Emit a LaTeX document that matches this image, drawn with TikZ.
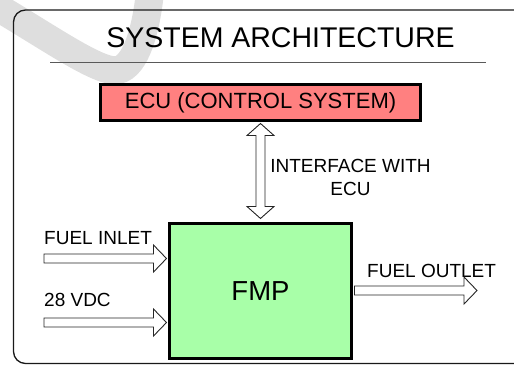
\documentclass[tikz,border=0pt]{standalone}
\usepackage{fontspec}
\setmainfont{Liberation Sans}
\usetikzlibrary{calc}
\definecolor{ecured}{RGB}{255,128,128}
\definecolor{fmpgreen}{RGB}{168,255,168}
\definecolor{wmgray}{RGB}{222,222,222}
\newcommand\hbarrow[2]{\draw[barrow] let \p1=(#1), \p2=(#2) in
  (\x1,\y1+4.5pt) -- (\x2-13pt,\y1+4.5pt) -- (\x2-13pt,\y1+13.5pt) -- (\x2,\y1)
  -- (\x2-13pt,\y1-13.5pt) -- (\x2-13pt,\y1-4.5pt) -- (\x1,\y1-4.5pt) -- cycle;}
\begin{document}
\begin{tikzpicture}[x=1pt,y=-1pt,
  box/.style={draw=black, line width=3pt, inner sep=0pt},
  barrow/.style={draw=black!85, line width=0.9pt, fill=white, line join=miter},
  lbl/.style={font=\fontsize{19}{23}\selectfont, inner sep=0pt},
  frame/.style={draw=black!90, line width=1.3pt, rounded corners=12pt}]
\useasboundingbox (0,0) rectangle (514,365);
\begin{scope}
  \clip (0,0) rectangle (514,365);
  % watermark swoosh
  \draw[wmgray, line width=28pt] (-8,4) .. controls (50,38) and (100,74) .. (118,70)
     .. controls (136,66) and (146,30) .. (150,-8);
  % frame
  \draw[frame] (13.5,10) rectangle (545,363.5);
\end{scope}
% title
\node[font=\fontsize{28.5}{32}\selectfont, anchor=base, inner sep=0pt] (title) at (280.5,47) {SYSTEM ARCHITECTURE};
\draw[black!65, line width=1pt] (50,62) -- (486,62);
% boxes
\node[box, fill=ecured, minimum width=320pt, minimum height=36pt,
      font=\fontsize{22}{26}\selectfont] (ecu) at (260.5,102.5) {ECU (CONTROL SYSTEM)};
\node[box, fill=fmpgreen, minimum width=182pt, minimum height=135pt,
      font=\fontsize{27.5}{32}\selectfont] (fmp) at (260.5,291) {FMP};
% labels
\node[lbl, anchor=base] (ifa) at (350.5,172) {INTERFACE WITH};
\node[lbl, anchor=base] (ifb) at (350.5,195) {ECU};
\node[lbl, anchor=base west] (inl) at (44,244) {FUEL INLET};
\node[lbl, anchor=base west] (vdc) at (44,306) {28 VDC};
\node[lbl, anchor=base west] (outl) at (367,277) {FUEL OUTLET};
% connector end points
\coordinate (inA) at (44,258.5);
\coordinate (inB) at ($(fmp.west|-inA)+(-1.5,0)$);
\coordinate (vdcA) at (44,322.5);
\coordinate (vdcB) at ($(fmp.west|-vdcA)+(-1.5,0)$);
\coordinate (outA) at ($(fmp.east)+(1.5,-0.5)$);
\coordinate (outB) at (477,290.5);
\coordinate (vT) at ($(ecu.south)+(0,1.5)$);
\coordinate (vB) at ($(fmp.north)+(0,-3.5)$);
% block arrows
\hbarrow{inA}{inB}
\hbarrow{vdcA}{vdcB}
\hbarrow{outA}{outB}
\draw[barrow] let \p1=(vT), \p2=(vB) in
  (\x1,\y1) -- (\x1+13.5pt,\y1-12pt) -- (\x1+4.5pt,\y1-12pt) -- (\x1+4.5pt,\y2+12pt)
  -- (\x1+13.5pt,\y2+12pt) -- (\x1,\y2) -- (\x1-13.5pt,\y2+12pt) -- (\x1-4.5pt,\y2+12pt)
  -- (\x1-4.5pt,\y1-12pt) -- (\x1-13.5pt,\y1-12pt) -- cycle;
\end{tikzpicture}
\end{document}
